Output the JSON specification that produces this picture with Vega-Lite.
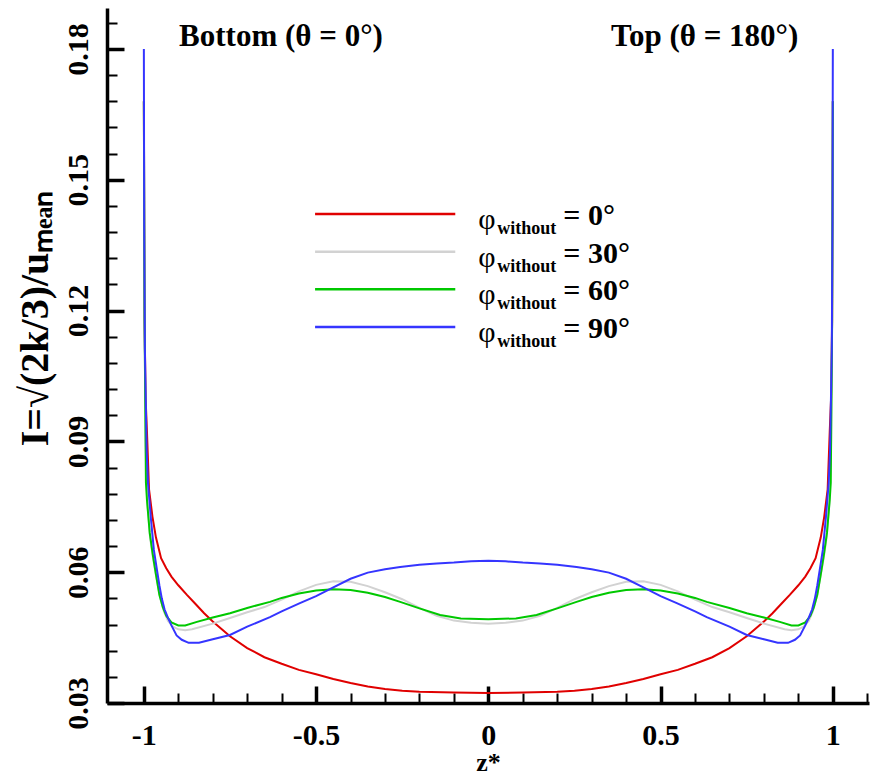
{
  "$schema": "https://vega.github.io/schema/vega-lite/v6.json",
  "width": 762,
  "height": 695,
  "autosize": "none",
  "padding": {"left": 107, "top": 8, "right": 8, "bottom": 76},
  "background": "white",
  "config": {
    "view": {"stroke": null},
    "font": "Liberation Serif"
  },
  "resolve": {"scale": {"y": "independent"}, "axis": {"x": "independent", "y": "independent"}},
  "layer": [
    {
      "data": {"values": [
        {"z":-1,"I":0.168,"phi":"0°"},{"z":-0.998,"I":0.118,"phi":"0°"},{"z":-0.995,"I":0.1,"phi":"0°"},{"z":-0.991,"I":0.0922,"phi":"0°"},{"z":-0.985,"I":0.079,"phi":"0°"},{"z":-0.975,"I":0.0727,"phi":"0°"},{"z":-0.965,"I":0.068,"phi":"0°"},{"z":-0.95,"I":0.0632,"phi":"0°"},{"z":-0.935,"I":0.0609,"phi":"0°"},{"z":-0.92,"I":0.059,"phi":"0°"},{"z":-0.9,"I":0.057,"phi":"0°"},{"z":-0.875,"I":0.0548,"phi":"0°"},{"z":-0.85,"I":0.0527,"phi":"0°"},{"z":-0.825,"I":0.0506,"phi":"0°"},{"z":-0.8,"I":0.0487,"phi":"0°"},{"z":-0.75,"I":0.0453,"phi":"0°"},{"z":-0.7,"I":0.0426,"phi":"0°"},{"z":-0.65,"I":0.0405,"phi":"0°"},{"z":-0.6,"I":0.039,"phi":"0°"},{"z":-0.55,"I":0.0376,"phi":"0°"},{"z":-0.5,"I":0.0366,"phi":"0°"},{"z":-0.45,"I":0.0355,"phi":"0°"},{"z":-0.4,"I":0.0346,"phi":"0°"},{"z":-0.35,"I":0.0338,"phi":"0°"},{"z":-0.3,"I":0.0332,"phi":"0°"},{"z":-0.25,"I":0.0328,"phi":"0°"},{"z":-0.2,"I":0.0326,"phi":"0°"},{"z":-0.1,"I":0.0324,"phi":"0°"},{"z":0,"I":0.0323,"phi":"0°"},
        {"z":0.1,"I":0.0324,"phi":"0°"},{"z":0.2,"I":0.0326,"phi":"0°"},{"z":0.25,"I":0.0328,"phi":"0°"},{"z":0.3,"I":0.0332,"phi":"0°"},{"z":0.35,"I":0.0338,"phi":"0°"},{"z":0.4,"I":0.0346,"phi":"0°"},{"z":0.45,"I":0.0355,"phi":"0°"},{"z":0.5,"I":0.0366,"phi":"0°"},{"z":0.55,"I":0.0376,"phi":"0°"},{"z":0.6,"I":0.039,"phi":"0°"},{"z":0.65,"I":0.0405,"phi":"0°"},{"z":0.7,"I":0.0426,"phi":"0°"},{"z":0.75,"I":0.0453,"phi":"0°"},{"z":0.8,"I":0.0487,"phi":"0°"},{"z":0.825,"I":0.0506,"phi":"0°"},{"z":0.85,"I":0.0527,"phi":"0°"},{"z":0.875,"I":0.0548,"phi":"0°"},{"z":0.9,"I":0.057,"phi":"0°"},{"z":0.92,"I":0.059,"phi":"0°"},{"z":0.935,"I":0.0609,"phi":"0°"},{"z":0.95,"I":0.0632,"phi":"0°"},{"z":0.965,"I":0.068,"phi":"0°"},{"z":0.975,"I":0.0727,"phi":"0°"},{"z":0.985,"I":0.079,"phi":"0°"},{"z":0.991,"I":0.0922,"phi":"0°"},{"z":0.995,"I":0.1,"phi":"0°"},{"z":0.998,"I":0.118,"phi":"0°"},{"z":1,"I":0.168,"phi":"0°"},

        {"z":-1,"I":0.168,"phi":"30°"},{"z":-0.998,"I":0.118,"phi":"30°"},{"z":-0.995,"I":0.09,"phi":"30°"},{"z":-0.99,"I":0.076,"phi":"30°"},{"z":-0.982,"I":0.068,"phi":"30°"},{"z":-0.973,"I":0.063,"phi":"30°"},{"z":-0.963,"I":0.0585,"phi":"30°"},{"z":-0.953,"I":0.0543,"phi":"30°"},{"z":-0.942,"I":0.051,"phi":"30°"},{"z":-0.93,"I":0.0488,"phi":"30°"},{"z":-0.915,"I":0.0475,"phi":"30°"},{"z":-0.9,"I":0.0469,"phi":"30°"},{"z":-0.88,"I":0.0467,"phi":"30°"},{"z":-0.86,"I":0.0469,"phi":"30°"},{"z":-0.8,"I":0.0482,"phi":"30°"},{"z":-0.75,"I":0.0495,"phi":"30°"},{"z":-0.7,"I":0.0508,"phi":"30°"},{"z":-0.65,"I":0.052,"phi":"30°"},{"z":-0.6,"I":0.0537,"phi":"30°"},{"z":-0.55,"I":0.0556,"phi":"30°"},{"z":-0.5,"I":0.0571,"phi":"30°"},{"z":-0.45,"I":0.0579,"phi":"30°"},{"z":-0.4,"I":0.0578,"phi":"30°"},{"z":-0.35,"I":0.0568,"phi":"30°"},{"z":-0.3,"I":0.0554,"phi":"30°"},{"z":-0.25,"I":0.0538,"phi":"30°"},{"z":-0.2,"I":0.0518,"phi":"30°"},{"z":-0.15,"I":0.05,"phi":"30°"},{"z":-0.1,"I":0.0489,"phi":"30°"},{"z":-0.05,"I":0.0484,"phi":"30°"},{"z":0,"I":0.0482,"phi":"30°"},
        {"z":0.05,"I":0.0484,"phi":"30°"},{"z":0.1,"I":0.0489,"phi":"30°"},{"z":0.15,"I":0.05,"phi":"30°"},{"z":0.2,"I":0.0518,"phi":"30°"},{"z":0.25,"I":0.0538,"phi":"30°"},{"z":0.3,"I":0.0554,"phi":"30°"},{"z":0.35,"I":0.0568,"phi":"30°"},{"z":0.4,"I":0.0578,"phi":"30°"},{"z":0.45,"I":0.0579,"phi":"30°"},{"z":0.5,"I":0.0571,"phi":"30°"},{"z":0.55,"I":0.0556,"phi":"30°"},{"z":0.6,"I":0.0537,"phi":"30°"},{"z":0.65,"I":0.052,"phi":"30°"},{"z":0.7,"I":0.0508,"phi":"30°"},{"z":0.75,"I":0.0495,"phi":"30°"},{"z":0.8,"I":0.0482,"phi":"30°"},{"z":0.86,"I":0.0469,"phi":"30°"},{"z":0.88,"I":0.0467,"phi":"30°"},{"z":0.9,"I":0.0469,"phi":"30°"},{"z":0.915,"I":0.0475,"phi":"30°"},{"z":0.93,"I":0.0488,"phi":"30°"},{"z":0.942,"I":0.051,"phi":"30°"},{"z":0.953,"I":0.0543,"phi":"30°"},{"z":0.963,"I":0.0585,"phi":"30°"},{"z":0.973,"I":0.063,"phi":"30°"},{"z":0.982,"I":0.068,"phi":"30°"},{"z":0.99,"I":0.076,"phi":"30°"},{"z":0.995,"I":0.09,"phi":"30°"},{"z":0.998,"I":0.118,"phi":"30°"},{"z":1,"I":0.168,"phi":"30°"},

        {"z":-1,"I":0.168,"phi":"60°"},{"z":-0.998,"I":0.118,"phi":"60°"},{"z":-0.994,"I":0.0805,"phi":"60°"},{"z":-0.991,"I":0.0766,"phi":"60°"},{"z":-0.983,"I":0.069,"phi":"60°"},{"z":-0.974,"I":0.064,"phi":"60°"},{"z":-0.965,"I":0.0595,"phi":"60°"},{"z":-0.955,"I":0.0548,"phi":"60°"},{"z":-0.945,"I":0.052,"phi":"60°"},{"z":-0.935,"I":0.05,"phi":"60°"},{"z":-0.92,"I":0.0485,"phi":"60°"},{"z":-0.9,"I":0.0478,"phi":"60°"},{"z":-0.88,"I":0.0478,"phi":"60°"},{"z":-0.846,"I":0.0486,"phi":"60°"},{"z":-0.8,"I":0.0496,"phi":"60°"},{"z":-0.75,"I":0.0506,"phi":"60°"},{"z":-0.7,"I":0.0518,"phi":"60°"},{"z":-0.634,"I":0.0532,"phi":"60°"},{"z":-0.6,"I":0.0541,"phi":"60°"},{"z":-0.55,"I":0.0551,"phi":"60°"},{"z":-0.5,"I":0.0558,"phi":"60°"},{"z":-0.45,"I":0.0561,"phi":"60°"},{"z":-0.4,"I":0.0559,"phi":"60°"},{"z":-0.35,"I":0.0553,"phi":"60°"},{"z":-0.3,"I":0.0543,"phi":"60°"},{"z":-0.256,"I":0.0532,"phi":"60°"},{"z":-0.2,"I":0.0517,"phi":"60°"},{"z":-0.14,"I":0.0502,"phi":"60°"},{"z":-0.08,"I":0.0494,"phi":"60°"},{"z":0,"I":0.0492,"phi":"60°"},
        {"z":0.08,"I":0.0494,"phi":"60°"},{"z":0.14,"I":0.0502,"phi":"60°"},{"z":0.2,"I":0.0517,"phi":"60°"},{"z":0.256,"I":0.0532,"phi":"60°"},{"z":0.3,"I":0.0543,"phi":"60°"},{"z":0.35,"I":0.0553,"phi":"60°"},{"z":0.4,"I":0.0559,"phi":"60°"},{"z":0.45,"I":0.0561,"phi":"60°"},{"z":0.5,"I":0.0558,"phi":"60°"},{"z":0.55,"I":0.0551,"phi":"60°"},{"z":0.6,"I":0.0541,"phi":"60°"},{"z":0.634,"I":0.0532,"phi":"60°"},{"z":0.7,"I":0.0518,"phi":"60°"},{"z":0.75,"I":0.0506,"phi":"60°"},{"z":0.8,"I":0.0496,"phi":"60°"},{"z":0.846,"I":0.0486,"phi":"60°"},{"z":0.88,"I":0.0478,"phi":"60°"},{"z":0.9,"I":0.0478,"phi":"60°"},{"z":0.92,"I":0.0485,"phi":"60°"},{"z":0.935,"I":0.05,"phi":"60°"},{"z":0.945,"I":0.052,"phi":"60°"},{"z":0.955,"I":0.0548,"phi":"60°"},{"z":0.965,"I":0.0595,"phi":"60°"},{"z":0.974,"I":0.064,"phi":"60°"},{"z":0.983,"I":0.069,"phi":"60°"},{"z":0.991,"I":0.0766,"phi":"60°"},{"z":0.994,"I":0.0805,"phi":"60°"},{"z":0.998,"I":0.118,"phi":"60°"},{"z":1,"I":0.168,"phi":"60°"},

        {"z":-1,"I":0.18,"phi":"90°"},{"z":-0.999,"I":0.14,"phi":"90°"},{"z":-0.997,"I":0.111,"phi":"90°"},{"z":-0.992,"I":0.088,"phi":"90°"},{"z":-0.988,"I":0.0805,"phi":"90°"},{"z":-0.98,"I":0.0727,"phi":"90°"},{"z":-0.971,"I":0.0651,"phi":"90°"},{"z":-0.962,"I":0.0605,"phi":"90°"},{"z":-0.955,"I":0.057,"phi":"90°"},{"z":-0.948,"I":0.054,"phi":"90°"},{"z":-0.94,"I":0.0515,"phi":"90°"},{"z":-0.93,"I":0.0495,"phi":"90°"},{"z":-0.92,"I":0.0478,"phi":"90°"},{"z":-0.905,"I":0.0455,"phi":"90°"},{"z":-0.89,"I":0.0445,"phi":"90°"},{"z":-0.87,"I":0.0438,"phi":"90°"},{"z":-0.84,"I":0.0438,"phi":"90°"},{"z":-0.8,"I":0.0446,"phi":"90°"},{"z":-0.75,"I":0.0456,"phi":"90°"},{"z":-0.7,"I":0.0475,"phi":"90°"},{"z":-0.634,"I":0.0497,"phi":"90°"},{"z":-0.6,"I":0.051,"phi":"90°"},{"z":-0.547,"I":0.0529,"phi":"90°"},{"z":-0.5,"I":0.0545,"phi":"90°"},{"z":-0.45,"I":0.0565,"phi":"90°"},{"z":-0.4,"I":0.0585,"phi":"90°"},{"z":-0.35,"I":0.0599,"phi":"90°"},{"z":-0.3,"I":0.0607,"phi":"90°"},{"z":-0.256,"I":0.0612,"phi":"90°"},{"z":-0.2,"I":0.0617,"phi":"90°"},{"z":-0.15,"I":0.062,"phi":"90°"},{"z":-0.1,"I":0.0622,"phi":"90°"},{"z":-0.05,"I":0.0625,"phi":"90°"},{"z":0,"I":0.0626,"phi":"90°"},
        {"z":0.05,"I":0.0625,"phi":"90°"},{"z":0.1,"I":0.0622,"phi":"90°"},{"z":0.15,"I":0.062,"phi":"90°"},{"z":0.2,"I":0.0617,"phi":"90°"},{"z":0.256,"I":0.0612,"phi":"90°"},{"z":0.3,"I":0.0607,"phi":"90°"},{"z":0.35,"I":0.0599,"phi":"90°"},{"z":0.4,"I":0.0585,"phi":"90°"},{"z":0.45,"I":0.0565,"phi":"90°"},{"z":0.5,"I":0.0545,"phi":"90°"},{"z":0.547,"I":0.0529,"phi":"90°"},{"z":0.6,"I":0.051,"phi":"90°"},{"z":0.634,"I":0.0497,"phi":"90°"},{"z":0.7,"I":0.0475,"phi":"90°"},{"z":0.75,"I":0.0456,"phi":"90°"},{"z":0.8,"I":0.0446,"phi":"90°"},{"z":0.84,"I":0.0438,"phi":"90°"},{"z":0.87,"I":0.0438,"phi":"90°"},{"z":0.89,"I":0.0445,"phi":"90°"},{"z":0.905,"I":0.0455,"phi":"90°"},{"z":0.92,"I":0.0478,"phi":"90°"},{"z":0.93,"I":0.0495,"phi":"90°"},{"z":0.94,"I":0.0515,"phi":"90°"},{"z":0.948,"I":0.054,"phi":"90°"},{"z":0.955,"I":0.057,"phi":"90°"},{"z":0.962,"I":0.0605,"phi":"90°"},{"z":0.971,"I":0.0651,"phi":"90°"},{"z":0.98,"I":0.0727,"phi":"90°"},{"z":0.988,"I":0.0805,"phi":"90°"},{"z":0.992,"I":0.088,"phi":"90°"},{"z":0.997,"I":0.111,"phi":"90°"},{"z":0.999,"I":0.14,"phi":"90°"},{"z":1,"I":0.18,"phi":"90°"}
      ]},
      "mark": {"type": "line", "strokeWidth": 2, "clip": true},
      "encoding": {
        "x": {
          "field": "z", "type": "quantitative",
          "scale": {"domain": [-1.107, 1.105], "nice": false, "zero": false},
          "axis": {
            "orient": "bottom",
            "title": "z*",
            "titleFont": "Liberation Serif", "titleFontSize": 26, "titleFontWeight": "bold", "titleColor": "black", "titlePadding": -1,
            "values": [-1, -0.5, 0, 0.5, 1],
            "format": "~g",
            "labelExpr": "replace(datum.label, '−', '-')",
            "labelFont": "Liberation Serif", "labelFontSize": 30, "labelFontWeight": "bold", "labelColor": "black",
            "labelPadding": 34, "labelFlush": false, "labelOverlap": false,
            "tickSize": -17, "tickWidth": 3.5, "tickColor": "black",
            "domainColor": "black", "domainWidth": 3.5,
            "grid": false
          }
        },
        "y": {
          "field": "I", "type": "quantitative",
          "scale": {"domain": [0.03, 0.1894], "nice": false, "zero": false},
          "axis": {
            "orient": "left",
            "title": "I=√(2k/3)/uₘₑₐₙ",
            "titleFont": "Liberation Serif", "titleFontSize": 40, "titleFontWeight": "bold", "titleColor": "black",
            "titleAngle": 270, "titleAlign": "center", "titleBaseline": "alphabetic", "titleX": -60, "titleY": 310,
            "values": [0.03, 0.06, 0.09, 0.12, 0.15, 0.18],
            "format": ".2f",
            "labelFont": "Liberation Serif", "labelFontSize": 30, "labelFontWeight": "bold", "labelColor": "black",
            "labelAngle": -90, "labelAlign": "center", "labelBaseline": "alphabetic",
            "labelPadding": 37, "labelFlush": false, "labelOverlap": false,
            "tickSize": -17, "tickWidth": 3.5, "tickColor": "black",
            "domainColor": "black", "domainWidth": 3.5,
            "grid": false
          }
        },
        "color": {
          "field": "phi", "type": "nominal",
          "scale": {"domain": ["0°", "30°", "60°", "90°"], "range": ["#e00000", "#d2d2d2", "#00c800", "#3535ff"]},
          "legend": null
        }
      }
    },
    {
      "data": {"values": [{"label": "Bottom (θ = 0°)", "pos": -0.602, "lvl": 0.1828}, {"label": "Top (θ = 180°)", "pos": 0.628, "lvl": 0.1828}]},
      "mark": {"type": "text", "font": "Liberation Serif", "fontSize": 31, "fontWeight": "bold", "color": "black", "align": "center", "baseline": "middle"},
      "encoding": {
        "x": {
          "field": "pos", "type": "quantitative",
          "axis": {
            "orient": "bottom", "title": null, "labels": false, "domain": false, "grid": false,
            "values": [-0.9, -0.8, -0.7, -0.6, -0.4, -0.3, -0.2, -0.1, 0.1, 0.2, 0.3, 0.4, 0.6, 0.7, 0.8, 0.9, 1.1],
            "tickSize": -10, "tickWidth": 2, "tickColor": "black"
          }
        },
        "y": {
          "field": "lvl", "type": "quantitative",
          "scale": {"domain": [0.03, 0.1894], "nice": false, "zero": false},
          "axis": {
            "orient": "left", "title": null, "labels": false, "domain": false, "grid": false,
            "values": [0.036, 0.042, 0.048, 0.054, 0.066, 0.072, 0.078, 0.084, 0.096, 0.102, 0.108, 0.114, 0.126, 0.132, 0.138, 0.144, 0.156, 0.162, 0.168, 0.174, 0.186],
            "tickSize": -10, "tickWidth": 2, "tickColor": "black"
          }
        },
        "text": {"field": "label"}
      }
    },
    {
      "data": {"values": [{"phi": "0°", "label": "= 0°"}, {"phi": "30°", "label": "= 30°"}, {"phi": "60°", "label": "= 60°"}, {"phi": "90°", "label": "= 90°"}]},
      "layer": [
        {
          "mark": {"type": "rule", "strokeWidth": 2.5},
          "encoding": {
            "x": {"datum": -0.503, "axis": null},
            "x2": {"datum": -0.096},
            "y": {"field": "phi", "type": "nominal", "scale": {"type": "point", "domain": ["0°", "30°", "60°", "90°"], "range": [206, 319], "padding": 0}, "axis": null},
            "color": {"field": "phi", "type": "nominal", "legend": null}
          }
        },
        {
          "mark": {"type": "text", "font": "Liberation Serif", "fontSize": 30, "color": "black", "align": "left", "baseline": "middle", "dy": 6},
          "encoding": {
            "x": {"datum": -0.029, "axis": null},
            "y": {"field": "phi", "type": "nominal", "scale": {"type": "point", "domain": ["0°", "30°", "60°", "90°"], "range": [206, 319], "padding": 0}, "axis": null},
            "text": {"value": "φ"}
          }
        },
        {
          "mark": {"type": "text", "font": "Liberation Serif", "fontSize": 18, "fontWeight": "bold", "color": "black", "align": "left", "baseline": "middle", "dx": 19, "dy": 15},
          "encoding": {
            "x": {"datum": -0.029, "axis": null},
            "y": {"field": "phi", "type": "nominal", "scale": {"type": "point", "domain": ["0°", "30°", "60°", "90°"], "range": [206, 319], "padding": 0}, "axis": null},
            "text": {"value": "without"}
          }
        },
        {
          "mark": {"type": "text", "font": "Liberation Serif", "fontSize": 30, "fontWeight": "bold", "color": "black", "align": "left", "baseline": "middle", "dx": 85, "dy": 2},
          "encoding": {
            "x": {"datum": -0.029, "axis": null},
            "y": {"field": "phi", "type": "nominal", "scale": {"type": "point", "domain": ["0°", "30°", "60°", "90°"], "range": [206, 319], "padding": 0}, "axis": null},
            "text": {"field": "label"}
          }
        }
      ]
    }
  ]
}
